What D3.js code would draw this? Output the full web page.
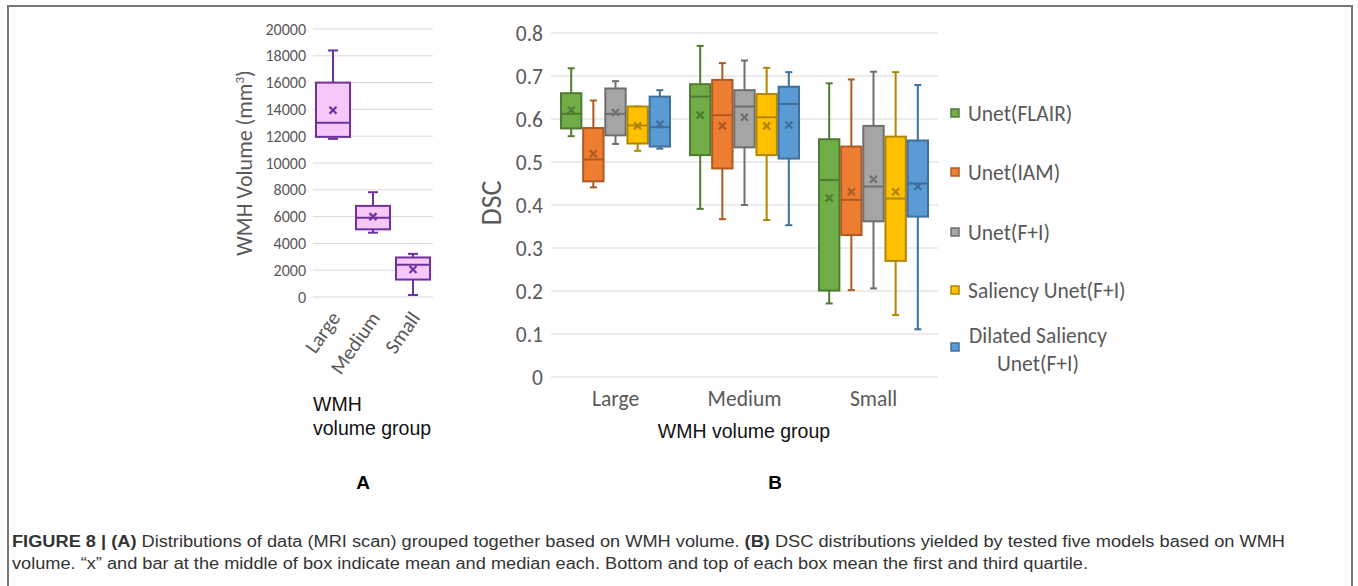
<!DOCTYPE html>
<html>
<head>
<meta charset="utf-8">
<script src="https://cdn.jsdelivr.net/npm/d3@7"></script>
<style>
  body { margin: 0; background: #fff; }
  svg { display: block; }
</style>
</head>
<body>
<svg id="fig" width="1358" height="586"></svg>
<script>
const groups = ["Large", "Medium", "Small"];

// panel A: WMH volume (mm3) per group
const volMin = [11800, 4800, 150];
const volQ1 = [11950, 5050, 1300];
const volMedian = [13000, 5920, 2400];
const volQ3 = [16000, 6800, 2950];
const volMax = [18400, 7820, 3220];
const volMean = [13930, 6000, 2050];
const volTicks = d3.range(0, 20001, 2000);

// panel B: DSC per model (rows) and group (columns)
const models = ["Unet(FLAIR)", "Unet(IAM)", "Unet(F+I)", "Saliency Unet(F+I)", "Dilated Saliency Unet(F+I)"];
const dscMin = [
  [0.560, 0.391, 0.171],
  [0.441, 0.367, 0.202],
  [0.542, 0.400, 0.206],
  [0.526, 0.365, 0.144],
  [0.531, 0.353, 0.111]
];
const dscQ1 = [
  [0.578, 0.516, 0.201],
  [0.455, 0.485, 0.330],
  [0.562, 0.534, 0.362],
  [0.543, 0.516, 0.270],
  [0.536, 0.508, 0.373]
];
const dscMedian = [
  [0.612, 0.652, 0.458],
  [0.506, 0.609, 0.412],
  [0.612, 0.629, 0.443],
  [0.585, 0.604, 0.415],
  [0.581, 0.635, 0.450]
];
const dscQ3 = [
  [0.660, 0.681, 0.553],
  [0.579, 0.691, 0.536],
  [0.671, 0.667, 0.584],
  [0.629, 0.658, 0.559],
  [0.652, 0.675, 0.550]
];
const dscMax = [
  [0.718, 0.770, 0.683],
  [0.643, 0.730, 0.692],
  [0.688, 0.736, 0.710],
  [0.629, 0.719, 0.709],
  [0.667, 0.709, 0.679]
];
const dscMean = [
  [0.621, 0.609, 0.416],
  [0.519, 0.584, 0.431],
  [0.615, 0.604, 0.460],
  [0.584, 0.584, 0.431],
  [0.588, 0.586, 0.443]
];
const dscTicks = [0, 0.1, 0.2, 0.3, 0.4, 0.5, 0.6, 0.7, 0.8];

const fills = ["#70ad47", "#ed7d31", "#a5a5a5", "#ffc000", "#5b9bd5"];
const strokes = ["#4f7c32", "#ae5a21", "#6f6f6f", "#b08600", "#3f6f9c"];

const officeFont = "Carlito, Lato, sans-serif";
const arialFont = "'Liberation Sans', Arial, sans-serif";
const gridColor = "#d9d9d9";
const tickColor = "#595959";

const svg = d3.select("#fig");

// outer frame
svg.append("rect")
  .attr("x", 8).attr("y", 6)
  .attr("width", 1344).attr("height", 620)
  .attr("fill", "none")
  .attr("stroke", "#777")
  .attr("stroke-width", 2);

function drawBox(g, cx, w, y, s, fill, stroke, capW) {
  // whiskers
  g.append("line").attr("x1", cx).attr("x2", cx)
    .attr("y1", y(s.q3)).attr("y2", y(s.max))
    .attr("stroke", stroke).attr("stroke-width", 2);
  g.append("line").attr("x1", cx).attr("x2", cx)
    .attr("y1", y(s.q1)).attr("y2", y(s.min))
    .attr("stroke", stroke).attr("stroke-width", 2);
  [s.max, s.min].forEach(v => {
    g.append("line").attr("x1", cx - capW / 2).attr("x2", cx + capW / 2)
      .attr("y1", y(v)).attr("y2", y(v))
      .attr("stroke", stroke).attr("stroke-width", 2);
  });
  g.append("rect")
    .attr("x", cx - w / 2).attr("width", w)
    .attr("y", y(s.q3)).attr("height", y(s.q1) - y(s.q3))
    .attr("fill", fill)
    .attr("stroke", stroke).attr("stroke-width", 2);
  g.append("line").attr("x1", cx - w / 2).attr("x2", cx + w / 2)
    .attr("y1", y(s.median)).attr("y2", y(s.median))
    .attr("stroke", stroke).attr("stroke-width", 2);
  const m = 3.5, my = y(s.mean);
  g.append("path")
    .attr("d", `M${cx - m},${my - m}L${cx + m},${my + m}M${cx - m},${my + m}L${cx + m},${my - m}`)
    .attr("stroke", stroke).attr("stroke-width", 2.2);
}

// ---------- panel A ----------
const yA = d3.scaleLinear().domain([0, 20000]).range([297, 29]);
const xA = d3.scaleBand().domain(groups).range([313, 433]).paddingInner(0.15).paddingOuter(0.075);
const gA = svg.append("g");

gA.selectAll(".gridA").data(volTicks).enter().append("line")
  .attr("x1", 313).attr("x2", 433)
  .attr("y1", d => yA(d)).attr("y2", d => yA(d))
  .attr("stroke", gridColor).attr("stroke-width", 1);

gA.selectAll(".tickA").data(volTicks).enter().append("text")
  .attr("x", 306).attr("y", d => yA(d))
  .attr("dy", "0.35em")
  .attr("text-anchor", "end")
  .attr("font-family", officeFont).attr("font-size", 16)
  .attr("fill", tickColor)
  .text(d => d);

groups.forEach((gname, i) => {
  const s = { min: volMin[i], q1: volQ1[i], median: volMedian[i], q3: volQ3[i], max: volMax[i], mean: volMean[i] };
  drawBox(gA, xA(gname) + xA.bandwidth() / 2, xA.bandwidth(), yA, s, "#f5c8f8", "#7030a0", 10);
});

gA.selectAll(".catA").data(groups).enter().append("text")
  .attr("transform", d => `translate(${xA(d) + xA.bandwidth() / 2 + 8},${318}) rotate(-55)`)
  .attr("text-anchor", "end")
  .attr("font-family", officeFont).attr("font-size", 20.5)
  .attr("fill", tickColor)
  .text(d => d);

const titleA = gA.append("text")
  .attr("transform", "translate(252,163) rotate(-90)")
  .attr("text-anchor", "middle")
  .attr("font-family", officeFont).attr("font-size", 22)
  .attr("fill", tickColor);
titleA.append("tspan").text("WMH Volume (mm");
titleA.append("tspan").attr("font-size", 13).attr("dy", -8).text("3");
titleA.append("tspan").attr("dy", 8).text(")");

gA.append("text")
  .attr("x", 313).attr("y", 411)
  .attr("font-family", arialFont).attr("font-size", 19.5).attr("fill", "#111")
  .text("WMH");
gA.append("text")
  .attr("x", 313).attr("y", 435)
  .attr("font-family", arialFont).attr("font-size", 19.5).attr("fill", "#111")
  .text("volume group");

// ---------- panel B ----------
const yB = d3.scaleLinear().domain([0, 0.8]).range([377, 33]);
const xB = d3.scaleBand().domain(groups).range([551, 938]);
const xM = d3.scaleBand().domain(models).range([10, 119]).paddingInner(0.08);
const gB = svg.append("g");

gB.selectAll(".gridB").data(dscTicks).enter().append("line")
  .attr("x1", 551).attr("x2", 938)
  .attr("y1", d => yB(d)).attr("y2", d => yB(d))
  .attr("stroke", gridColor).attr("stroke-width", 1);

gB.selectAll(".tickB").data(dscTicks).enter().append("text")
  .attr("x", 543).attr("y", d => yB(d))
  .attr("dy", "0.35em")
  .attr("text-anchor", "end")
  .attr("font-family", officeFont).attr("font-size", 21.5)
  .attr("fill", tickColor)
  .text(d => d === 0 ? "0" : d3.format(".1f")(d));

groups.forEach((gname, j) => {
  models.forEach((mname, i) => {
    const s = {
      min: dscMin[i][j], q1: dscQ1[i][j], median: dscMedian[i][j],
      q3: dscQ3[i][j], max: dscMax[i][j], mean: dscMean[i][j]
    };
    const cx = xB(gname) + xM(mname) + xM.bandwidth() / 2;
    drawBox(gB, cx, xM.bandwidth(), yB, s, fills[i], strokes[i], 7);
  });
});

gB.selectAll(".catB").data(groups).enter().append("text")
  .attr("x", d => xB(d) + xB.bandwidth() / 2).attr("y", 406)
  .attr("text-anchor", "middle")
  .attr("font-family", officeFont).attr("font-size", 21.5)
  .attr("fill", tickColor)
  .text(d => d);

gB.append("text")
  .attr("transform", "translate(501,203) rotate(-90)")
  .attr("text-anchor", "middle")
  .attr("font-family", officeFont).attr("font-size", 28)
  .attr("fill", tickColor)
  .text("DSC");

gB.append("text")
  .attr("x", 744).attr("y", 438)
  .attr("text-anchor", "middle")
  .attr("font-family", arialFont).attr("font-size", 19.5).attr("fill", "#111")
  .text("WMH volume group");

// legend
const legendY = [113, 172, 232, 290, 347];
const leg = gB.selectAll(".leg").data(models).enter().append("g")
  .attr("transform", (d, i) => `translate(951,${legendY[i]})`);
leg.append("rect")
  .attr("x", 0).attr("y", -4).attr("width", 8).attr("height", 8)
  .attr("fill", (d, i) => fills[i])
  .attr("stroke", (d, i) => strokes[i]).attr("stroke-width", 1.5);
leg.filter((d, i) => i < 4).append("text")
  .attr("x", 17).attr("dy", "0.35em")
  .attr("font-family", officeFont).attr("font-size", 21.5)
  .attr("fill", tickColor)
  .text(d => d);
const last = leg.filter((d, i) => i === 4).append("text")
  .attr("text-anchor", "middle")
  .attr("font-family", officeFont).attr("font-size", 21.5)
  .attr("fill", tickColor);
last.append("tspan").attr("x", 87).attr("y", -12).attr("dy", "0.35em").text("Dilated Saliency");
last.append("tspan").attr("x", 87).attr("y", 16).attr("dy", "0.35em").text("Unet(F+I)");

// panel letters
svg.append("text").attr("x", 363).attr("y", 489)
  .attr("text-anchor", "middle")
  .attr("font-family", arialFont).attr("font-weight", "bold").attr("font-size", 19)
  .text("A");
svg.append("text").attr("x", 775).attr("y", 489)
  .attr("text-anchor", "middle")
  .attr("font-family", arialFont).attr("font-weight", "bold").attr("font-size", 19)
  .text("B");

// caption
const cap1 = svg.append("text")
  .attr("x", 12).attr("y", 547)
  .attr("font-family", arialFont).attr("font-size", 16).attr("fill", "#333")
  .attr("textLength", 1273).attr("lengthAdjust", "spacingAndGlyphs");
cap1.append("tspan").attr("font-weight", "bold").text("FIGURE 8 | (A)");
cap1.append("tspan").text(" Distributions of data (MRI scan) grouped together based on WMH volume. ");
cap1.append("tspan").attr("font-weight", "bold").text("(B)");
cap1.append("tspan").text(" DSC distributions yielded by tested five models based on WMH");

svg.append("text")
  .attr("x", 12).attr("y", 569)
  .attr("font-family", arialFont).attr("font-size", 16).attr("fill", "#333")
  .attr("textLength", 1076).attr("lengthAdjust", "spacingAndGlyphs")
  .text("volume. \u201cx\u201d and bar at the middle of box indicate mean and median each. Bottom and top of each box mean the first and third quartile.");
</script>
</body>
</html>
